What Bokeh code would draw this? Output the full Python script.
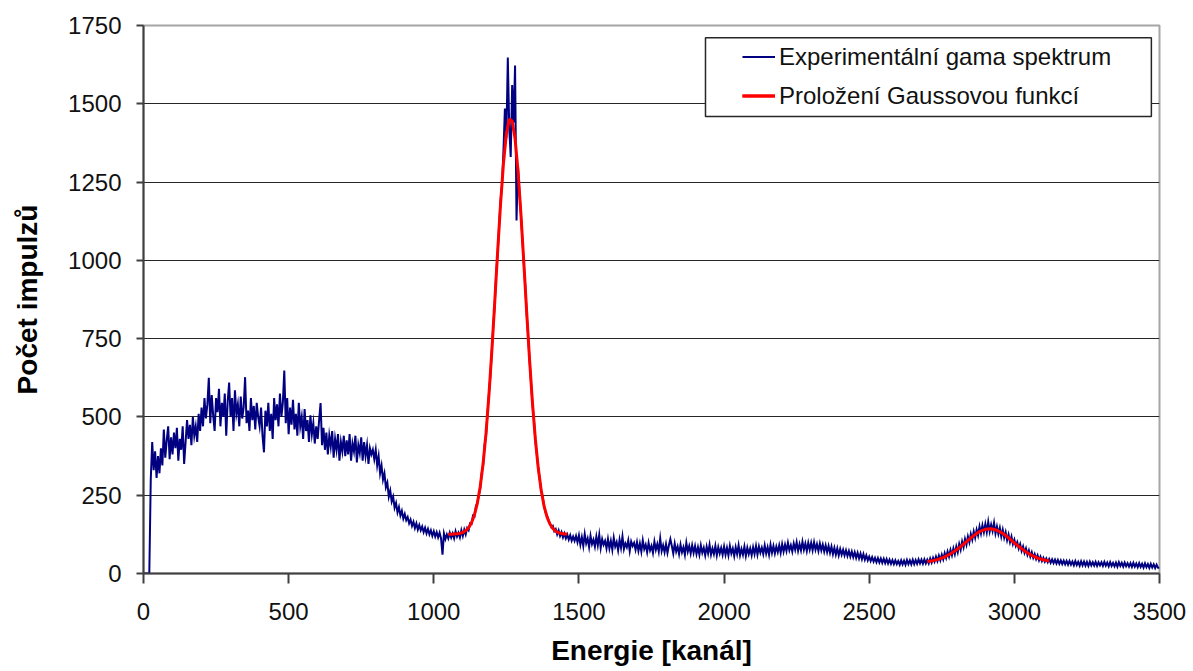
from bokeh.plotting import figure
from bokeh.models import Range1d, FixedTicker, Legend, LegendItem, BoxAnnotation
from bokeh.embed import file_html
from bokeh.resources import INLINE
import numpy as np

# ---------------- data ----------------
CH_START = 0
CH_STEP = 5
spectrum_counts = [
    0, 0, 0, 0, 0, 300, 420, 330, 390, 305, 375, 320, 400, 345, 460, 370, 425, 470, 365, 435,
    380, 450, 400, 465, 360, 430, 395, 470, 350, 420, 490, 430, 475, 410, 500, 440, 470, 420, 510, 455,
    530, 470, 560, 495, 540, 625, 480, 570, 505, 455, 560, 515, 590, 470, 545, 500, 575, 440, 550, 610,
    500, 560, 455, 585, 510, 540, 470, 565, 495, 530, 627, 480, 520, 455, 560, 490, 535, 460, 545, 500,
    470, 530, 440, 387, 520, 470, 545, 455, 510, 430, 560, 490, 540, 470, 575, 500, 545, 648, 480, 560,
    445, 530, 475, 555, 460, 510, 440, 545, 470, 500, 430, 525, 455, 490, 420, 505, 445, 480, 415, 470,
    430, 490, 544, 410, 465, 395, 450, 380, 440, 405, 455, 370, 430, 395, 445, 360, 420, 390, 440, 375,
    425, 380, 445, 360, 415, 390, 440, 355, 410, 385, 435, 360, 420, 375, 410, 350, 400, 380, 395, 365,
    395, 345, 375, 320, 345, 300, 320, 275, 290, 245, 265, 230, 245, 210, 225, 195, 212, 185, 200, 175,
    190, 170, 180, 160, 172, 152, 165, 145, 160, 140, 155, 138, 150, 132, 146, 128, 142, 125, 138, 120,
    135, 118, 132, 115, 130, 112, 60, 128, 110, 125, 112, 130, 115, 128, 112, 135, 118, 130, 115, 138,
    120, 140, 125, 145, 138, 160, 158, 185, 182, 215, 225, 250, 270, 320, 345, 410, 440, 510, 575, 630,
    715, 790, 860, 960, 1020, 1110, 1190, 1240, 1350, 1485, 1390, 1648, 1420, 1330, 1560, 1440, 1622, 1127, 1300, 1220,
    1150, 1070, 990, 920, 830, 760, 680, 610, 540, 490, 425, 380, 335, 300, 265, 245, 215, 195, 185, 170,
    160, 148, 152, 135, 142, 125, 138, 120, 132, 115, 128, 112, 124, 108, 122, 105, 118, 104, 120, 100,
    122, 92, 116, 88, 126, 96, 112, 84, 120, 94, 108, 86, 118, 90, 124, 82, 110, 92, 104, 80,
    110, 80, 104, 76, 114, 86, 100, 74, 108, 82, 118, 78, 96, 84, 106, 72, 102, 88, 98, 76,
    100, 72, 96, 70, 106, 78, 92, 68, 98, 74, 88, 66, 102, 76, 94, 70, 112, 72, 90, 68,
    94, 66, 90, 110, 88, 64, 96, 70, 86, 62, 92, 68, 84, 60, 98, 70, 88, 64, 90, 66,
    88, 62, 84, 60, 90, 66, 82, 58, 86, 64, 92, 60, 80, 62, 88, 58, 84, 64, 82, 60,
    86, 60, 82, 58, 88, 64, 80, 56, 84, 62, 90, 58, 78, 60, 86, 56, 82, 62, 80, 58,
    84, 62, 88, 60, 86, 66, 82, 62, 90, 64, 84, 60, 92, 66, 88, 64, 86, 68, 90, 66,
    94, 70, 92, 72, 98, 74, 90, 70, 96, 76, 100, 72, 94, 74, 102, 76, 96, 72, 98, 76,
    98, 74, 100, 76, 94, 72, 96, 74, 92, 70, 90, 68, 88, 66, 86, 62, 82, 60, 80, 58,
    78, 60, 76, 58, 74, 56, 72, 54, 70, 52, 68, 50, 66, 48, 64, 46, 62, 44, 58, 42,
    54, 40, 52, 38, 50, 36, 49, 35, 48, 34, 47, 33, 46, 32, 44, 31, 43, 30, 42, 30,
    40, 28, 42, 29, 41, 28, 43, 30, 42, 29, 44, 30, 43, 31, 45, 32, 44, 31, 45, 32,
    44, 32, 48, 35, 50, 38, 54, 40, 57, 42, 60, 45, 65, 50, 70, 54, 75, 58, 80, 62,
    86, 68, 94, 76, 102, 84, 110, 92, 118, 100, 126, 108, 134, 114, 140, 122, 150, 128, 154, 132,
    158, 132, 165, 134, 156, 136, 162, 128, 150, 126, 146, 118, 140, 114, 132, 106, 124, 100, 118, 94,
    108, 88, 100, 80, 94, 72, 86, 66, 80, 60, 74, 54, 68, 50, 62, 46, 58, 42, 54, 40,
    50, 38, 48, 36, 46, 34, 45, 33, 44, 32, 43, 31, 42, 30, 41, 29, 40, 28, 40, 28,
    38, 26, 40, 27, 37, 25, 39, 26, 38, 25, 37, 24, 38, 26, 36, 25, 37, 24, 36, 26,
    36, 24, 37, 25, 35, 23, 36, 24, 34, 23, 35, 22, 36, 24, 34, 22, 35, 23, 33, 22,
    33, 21, 34, 22, 32, 20, 33, 21, 31, 19, 32, 20, 30, 18, 31, 19, 29, 17, 28, 18,
    18,
]

FIT1_START = 1050
FIT1_STEP = 10
fit1_counts = [125, 125, 126, 127, 128, 131, 137, 146, 162, 187, 224, 278, 352, 449, 570,
               711, 867, 1028, 1180, 1310, 1404, 1451, 1445, 1389, 1287, 1151, 996, 835,
               682, 544, 428, 336, 266, 215, 181, 158, 144, 135, 130, 128, 126, 126]

FIT2_START = 2700
FIT2_STEP = 20
fit2_counts = [38, 41, 46, 53, 63, 75, 90, 106, 121, 134, 141, 143, 138, 128, 114, 98,
               83, 69, 58, 49, 44, 40]

x_ticks = [0, 500, 1000, 1500, 2000, 2500, 3000, 3500]
y_ticks = [0, 250, 500, 750, 1000, 1250, 1500, 1750]
grid_ticks = [250, 500, 750, 1000, 1250, 1500]

series_labels = ["Experimentální gama spektrum", "Proložení Gaussovou funkcí"]
x_title = "Energie [kanál]"
y_title = "Počet impulzů"

channels = CH_START + CH_STEP * np.arange(len(spectrum_counts))
fit1_channels = FIT1_START + FIT1_STEP * np.arange(len(fit1_counts))
fit2_channels = FIT2_START + FIT2_STEP * np.arange(len(fit2_counts))

# ---------------- figure ----------------
FONT = "Liberation Sans"
p = figure(width=1193, height=671,
           x_range=Range1d(0, 3500), y_range=Range1d(0, 1750),
           output_backend="svg", toolbar_location=None,
           min_border_left=143, min_border_right=34,
           min_border_top=25, min_border_bottom=98)
p.background_fill_color = "white"
p.border_fill_color = "white"
p.outline_line_color = "#A6A6A6"
p.outline_line_width = 2

p.xgrid.visible = False
p.ygrid.ticker = FixedTicker(ticks=grid_ticks)
p.ygrid.grid_line_color = "#262626"
p.ygrid.grid_line_width = 1.2

p.xaxis.ticker = FixedTicker(ticks=x_ticks)
p.yaxis.ticker = FixedTicker(ticks=y_ticks)
for ax in (p.xaxis[0], p.yaxis[0]):
    ax.axis_line_color = "#404040"
    ax.axis_line_width = 2
    ax.major_tick_line_color = "#404040"
    ax.major_tick_line_width = 2
    ax.major_tick_in = 0
    ax.minor_tick_line_color = None
    ax.major_label_text_font = FONT
    ax.major_label_text_font_size = "24px"
    ax.major_label_text_color = "#111111"
    ax.axis_label_text_font = FONT
    ax.axis_label_text_font_size = "28px"
    ax.axis_label_text_font_style = "bold"
    ax.axis_label_text_color = "#000000"

p.yaxis.major_tick_out = 7
p.yaxis.major_label_standoff = 15
p.yaxis.axis_label = y_title
p.yaxis.axis_label_standoff = 22

p.xaxis.major_tick_out = 10
p.xaxis.major_label_standoff = 19
p.xaxis.axis_label = x_title
p.xaxis.axis_label_standoff = 12

blue = p.line(channels, spectrum_counts, line_color="#000080", line_width=2.0,
              line_join="miter")
red1 = p.line(fit1_channels, fit1_counts, line_color="#FF0000", line_width=3)
red2 = p.line(fit2_channels, fit2_counts, line_color="#FF0000", line_width=3)

# legend frame
frame_box = BoxAnnotation(left=1936, right=3472, bottom=1459, top=1711,
                          fill_color="white", fill_alpha=1.0,
                          line_color="#262626", line_alpha=1.0, line_width=1.5)
p.add_layout(frame_box)

legend = Legend(items=[LegendItem(label=series_labels[0], renderers=[blue]),
                       LegendItem(label=series_labels[1], renderers=[red1, red2])],
                location=(599, 458), padding=0, spacing=0, margin=0,
                label_height=39, glyph_height=39, glyph_width=33, label_standoff=4,
                border_line_alpha=0, background_fill_alpha=0,
                label_text_font=FONT, label_text_font_size="24px",
                label_text_color="#111111")
p.add_layout(legend)

open("out.html", "w").write(file_html(p, INLINE))
